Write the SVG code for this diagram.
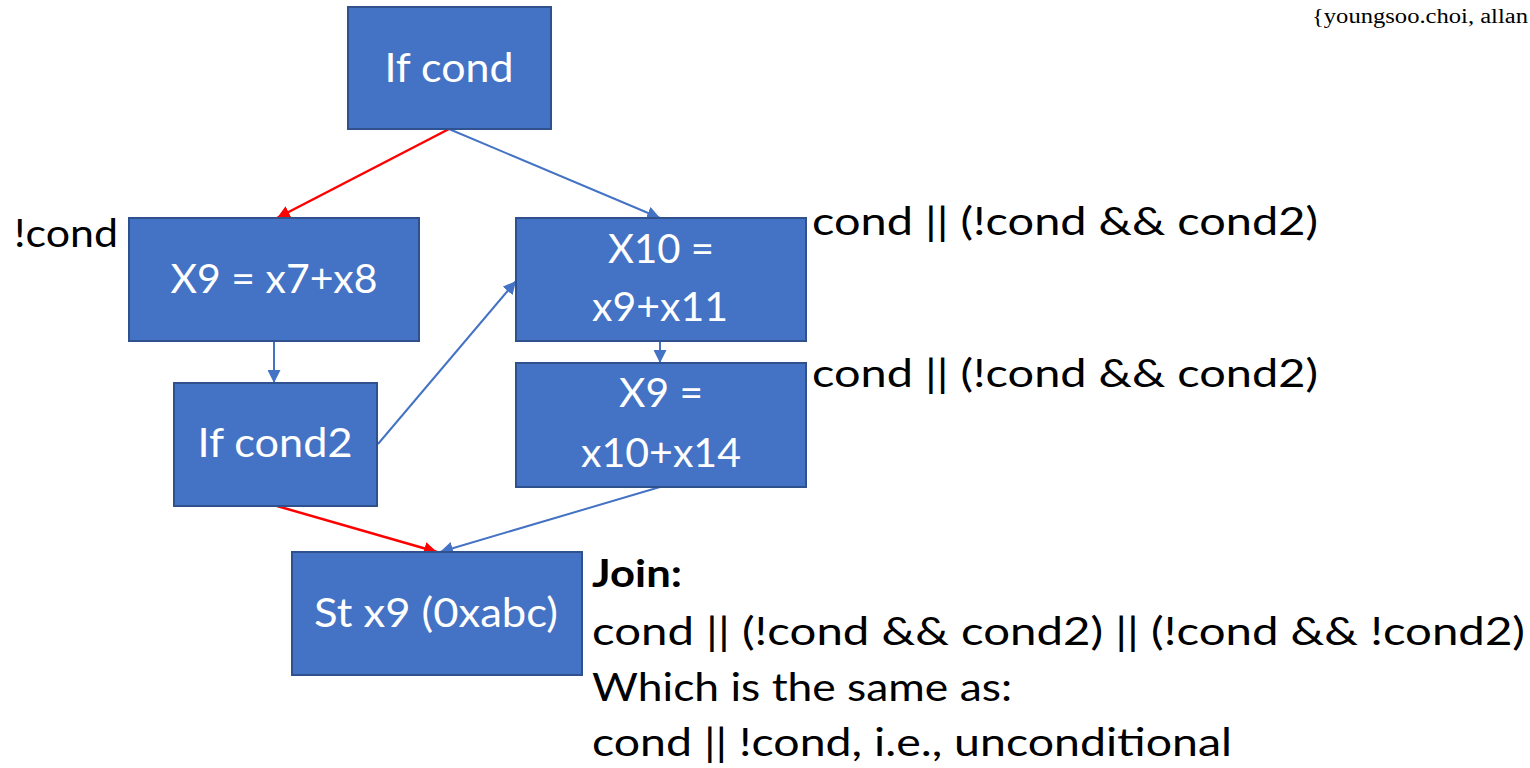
<svg xmlns="http://www.w3.org/2000/svg" width="1530" height="768" viewBox="0 0 1530 768">
  <style>
    .box { fill: #4472C4; stroke: #2F528F; stroke-width: 2; }
    .nt { font-family: Lato, "Open Sans", sans-serif; font-size: 41px; fill: #FFFFFF; text-anchor: middle; }
    .lbl { font-family: Lato, "Open Sans", sans-serif; font-size: 38px; fill: #000000; }
    .blue { stroke: #4472C4; stroke-width: 2; fill: none; marker-end: url(#ab); }
    .red { stroke: #FF0000; stroke-width: 2.5; fill: none; marker-end: url(#ar); }
  </style>
  <defs>
    <marker id="ab" viewBox="0 0 10 10" refX="10" refY="5" markerWidth="13" markerHeight="13" markerUnits="userSpaceOnUse" orient="auto">
      <path d="M0,0 L10,5 L0,10 z" fill="#4472C4"/>
    </marker>
    <marker id="ar" viewBox="0 0 10 10" refX="10" refY="5" markerWidth="13" markerHeight="13" markerUnits="userSpaceOnUse" orient="auto">
      <path d="M0,0 L10,5 L0,10 z" fill="#FF0000"/>
    </marker>
  </defs>

  <text x="1312" y="23" font-family="'Liberation Serif', serif" font-size="20" fill="#000" textLength="216" lengthAdjust="spacingAndGlyphs">{youngsoo.choi, allan</text>

  <g id="connectors">
    <line class="red" x1="449" y1="129" x2="277" y2="218"/>
    <line class="blue" x1="449" y1="129" x2="660" y2="218"/>
    <line class="blue" x1="274" y1="341" x2="274" y2="383"/>
    <line class="blue" x1="378" y1="444" x2="516" y2="281"/>
    <line class="blue" x1="660" y1="341" x2="660" y2="363"/>
    <line class="red" x1="277" y1="506" x2="437" y2="552"/>
    <line class="blue" x1="660" y1="487" x2="440" y2="552"/>
  </g>

  <g id="if-cond">
    <rect class="box" x="348" y="7" width="203" height="122"/>
    <text class="nt" x="449" y="82" textLength="129" lengthAdjust="spacingAndGlyphs">If cond</text>
  </g>
  <g id="x9-a">
    <rect class="box" x="129" y="218" width="290" height="123"/>
    <text class="nt" x="274" y="293" textLength="207" lengthAdjust="spacingAndGlyphs">X9 = x7+x8</text>
  </g>
  <g id="x10">
    <rect class="box" x="516" y="218" width="290" height="123"/>
    <text class="nt" x="661" y="263" textLength="106" lengthAdjust="spacingAndGlyphs">X10 =</text>
    <text class="nt" x="660" y="321" textLength="136" lengthAdjust="spacingAndGlyphs">x9+x11</text>
  </g>
  <g id="if-cond2">
    <rect class="box" x="174" y="383" width="203" height="123"/>
    <text class="nt" x="275" y="457" textLength="155" lengthAdjust="spacingAndGlyphs">If cond2</text>
  </g>
  <g id="x9-b">
    <rect class="box" x="516" y="363" width="290" height="124"/>
    <text class="nt" x="661" y="407" textLength="84" lengthAdjust="spacingAndGlyphs">X9 =</text>
    <text class="nt" x="661" y="467" textLength="160" lengthAdjust="spacingAndGlyphs">x10+x14</text>
  </g>
  <g id="store">
    <rect class="box" x="292" y="552" width="290" height="123"/>
    <text class="nt" x="436" y="627" textLength="244" lengthAdjust="spacingAndGlyphs">St x9 (0xabc)</text>
  </g>

  <g id="labels">
    <text class="lbl" x="14" y="247" textLength="104" lengthAdjust="spacingAndGlyphs">!cond</text>
    <text class="lbl" x="812" y="235" textLength="506" lengthAdjust="spacingAndGlyphs">cond || (!cond &amp;&amp; cond2)</text>
    <text class="lbl" x="812" y="387" textLength="506" lengthAdjust="spacingAndGlyphs">cond || (!cond &amp;&amp; cond2)</text>
    <text class="lbl" x="592" y="587" font-weight="bold" textLength="90" lengthAdjust="spacingAndGlyphs">Join:</text>
    <text class="lbl" x="592" y="645" textLength="933" lengthAdjust="spacingAndGlyphs">cond || (!cond &amp;&amp; cond2) || (!cond &amp;&amp; !cond2)</text>
    <text class="lbl" x="592" y="701" textLength="420" lengthAdjust="spacingAndGlyphs">Which is the same as:</text>
    <text class="lbl" x="592" y="756" textLength="640" lengthAdjust="spacingAndGlyphs">cond || !cond, i.e., unconditional</text>
  </g>
</svg>
